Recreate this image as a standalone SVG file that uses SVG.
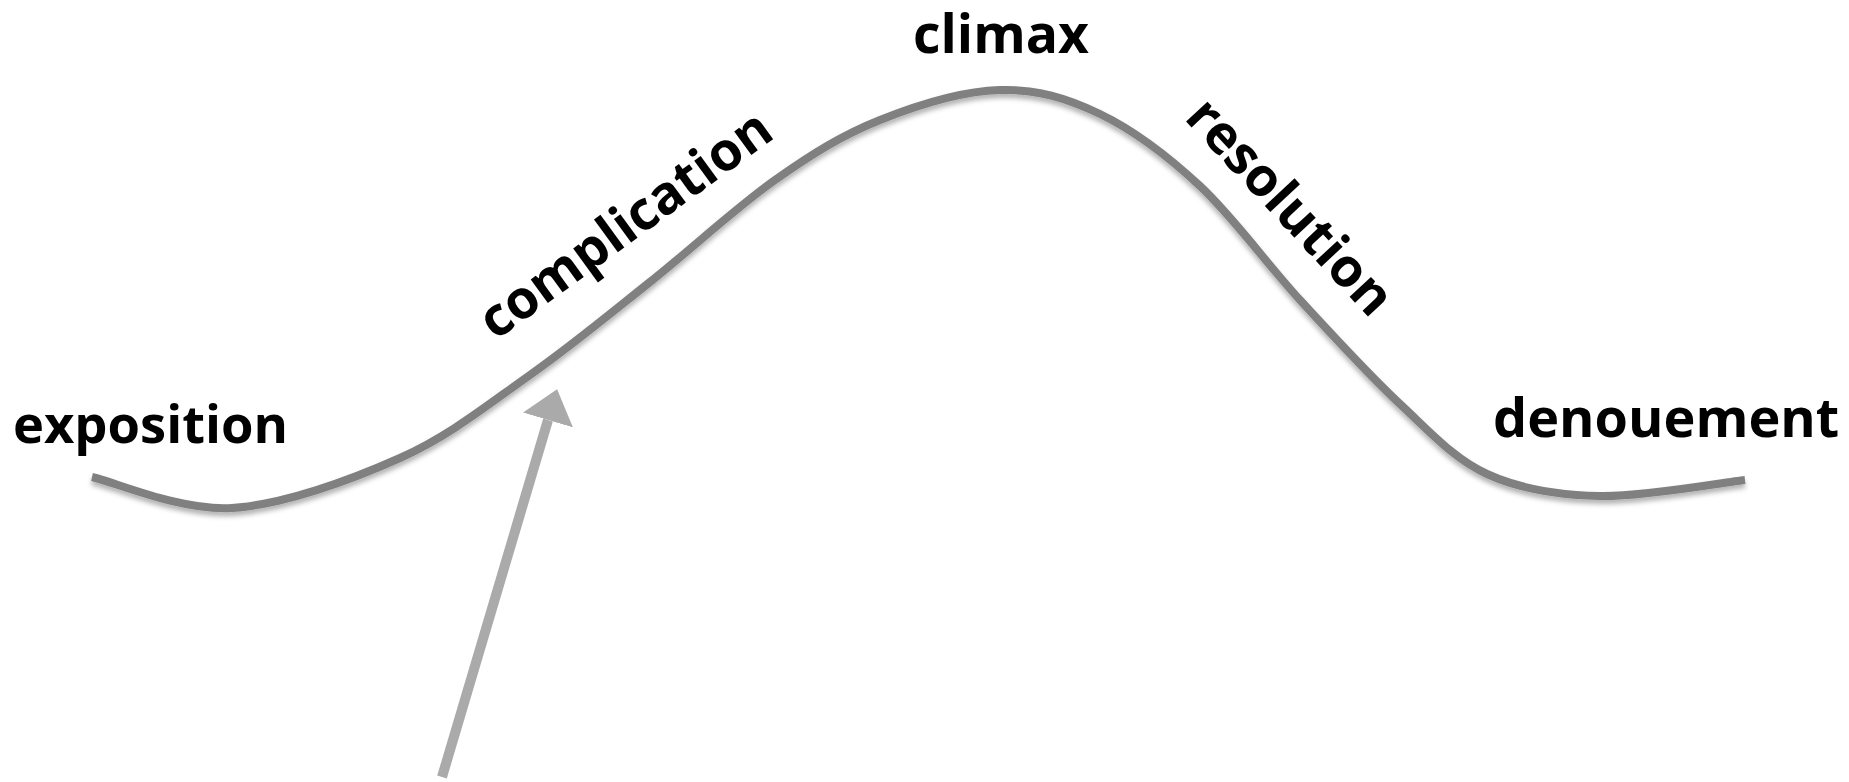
<svg xmlns="http://www.w3.org/2000/svg" width="1849" height="782" viewBox="0 0 1849 782">
  <style>
    .label { font-family: "Open Sans", "Noto Sans", "Liberation Sans", sans-serif; font-weight: 700; font-size: 53.5px; fill: #000000; }
    .plot { fill: none; stroke: #808080; stroke-width: 8; stroke-linecap: butt; stroke-linejoin: round; }
    .pointer { fill: none; stroke: #aaaaaa; stroke-width: 10; stroke-linecap: butt; }
  </style>
  <defs>
    <filter id="soft" filterUnits="userSpaceOnUse" x="0" y="0" width="1849" height="782">
      <feDropShadow dx="0" dy="4" stdDeviation="2.5" flood-color="#000000" flood-opacity="0.3"/>
    </filter>
    <marker id="head" markerUnits="userSpaceOnUse" viewBox="0 -26 32 52" refX="0" refY="0" markerWidth="32" markerHeight="52" orient="auto">
      <polygon points="0,-26 32,0 0,26" fill="#aaaaaa"/>
    </marker>
  </defs>
  <rect x="0" y="0" width="1849" height="782" fill="#ffffff"/>

  <g id="plot-line">
    <path class="plot" filter="url(#soft)" d="M92,477 C115.3,482.2 180.7,511.2 232,508 C283.3,504.8 350.3,480.2 400,458 C449.7,435.8 488.3,404.3 530,375 C571.7,345.7 609.2,314.5 650,282 C690.8,249.5 736.7,207 775,180 C813.3,153 842.5,135 880,120 C917.5,105 963.3,91 1000,90 C1036.7,89 1066.7,98 1100,114 C1133.3,130 1166.7,155 1200,186 C1233.3,217 1266.7,263.7 1300,300 C1333.3,336.3 1368.8,375 1400,404 C1431.2,433 1453.7,458.7 1487,474 C1520.3,489.3 1557,495 1600,496 C1643,497 1720.8,482.7 1745,480"/>
  </g>

  <g id="exposition">
    <text class="label" x="13" y="443" style="font-size:52.5px">exposition</text>
  </g>
  <g id="complication">
    <text class="label" text-anchor="middle" transform="translate(636,239) rotate(-36)">complication</text>
  </g>
  <g id="climax">
    <text class="label" text-anchor="middle" x="1001" y="53">climax</text>
  </g>
  <g id="resolution">
    <text class="label" text-anchor="middle" transform="translate(1277,219) rotate(47)">resolution</text>
  </g>
  <g id="denouement">
    <text class="label" x="1493" y="437" style="font-size:54px">denouement</text>
  </g>

  <g id="connectors">
    <line class="pointer" x1="442" y1="777" x2="548" y2="420" marker-end="url(#head)"/>
  </g>
</svg>
